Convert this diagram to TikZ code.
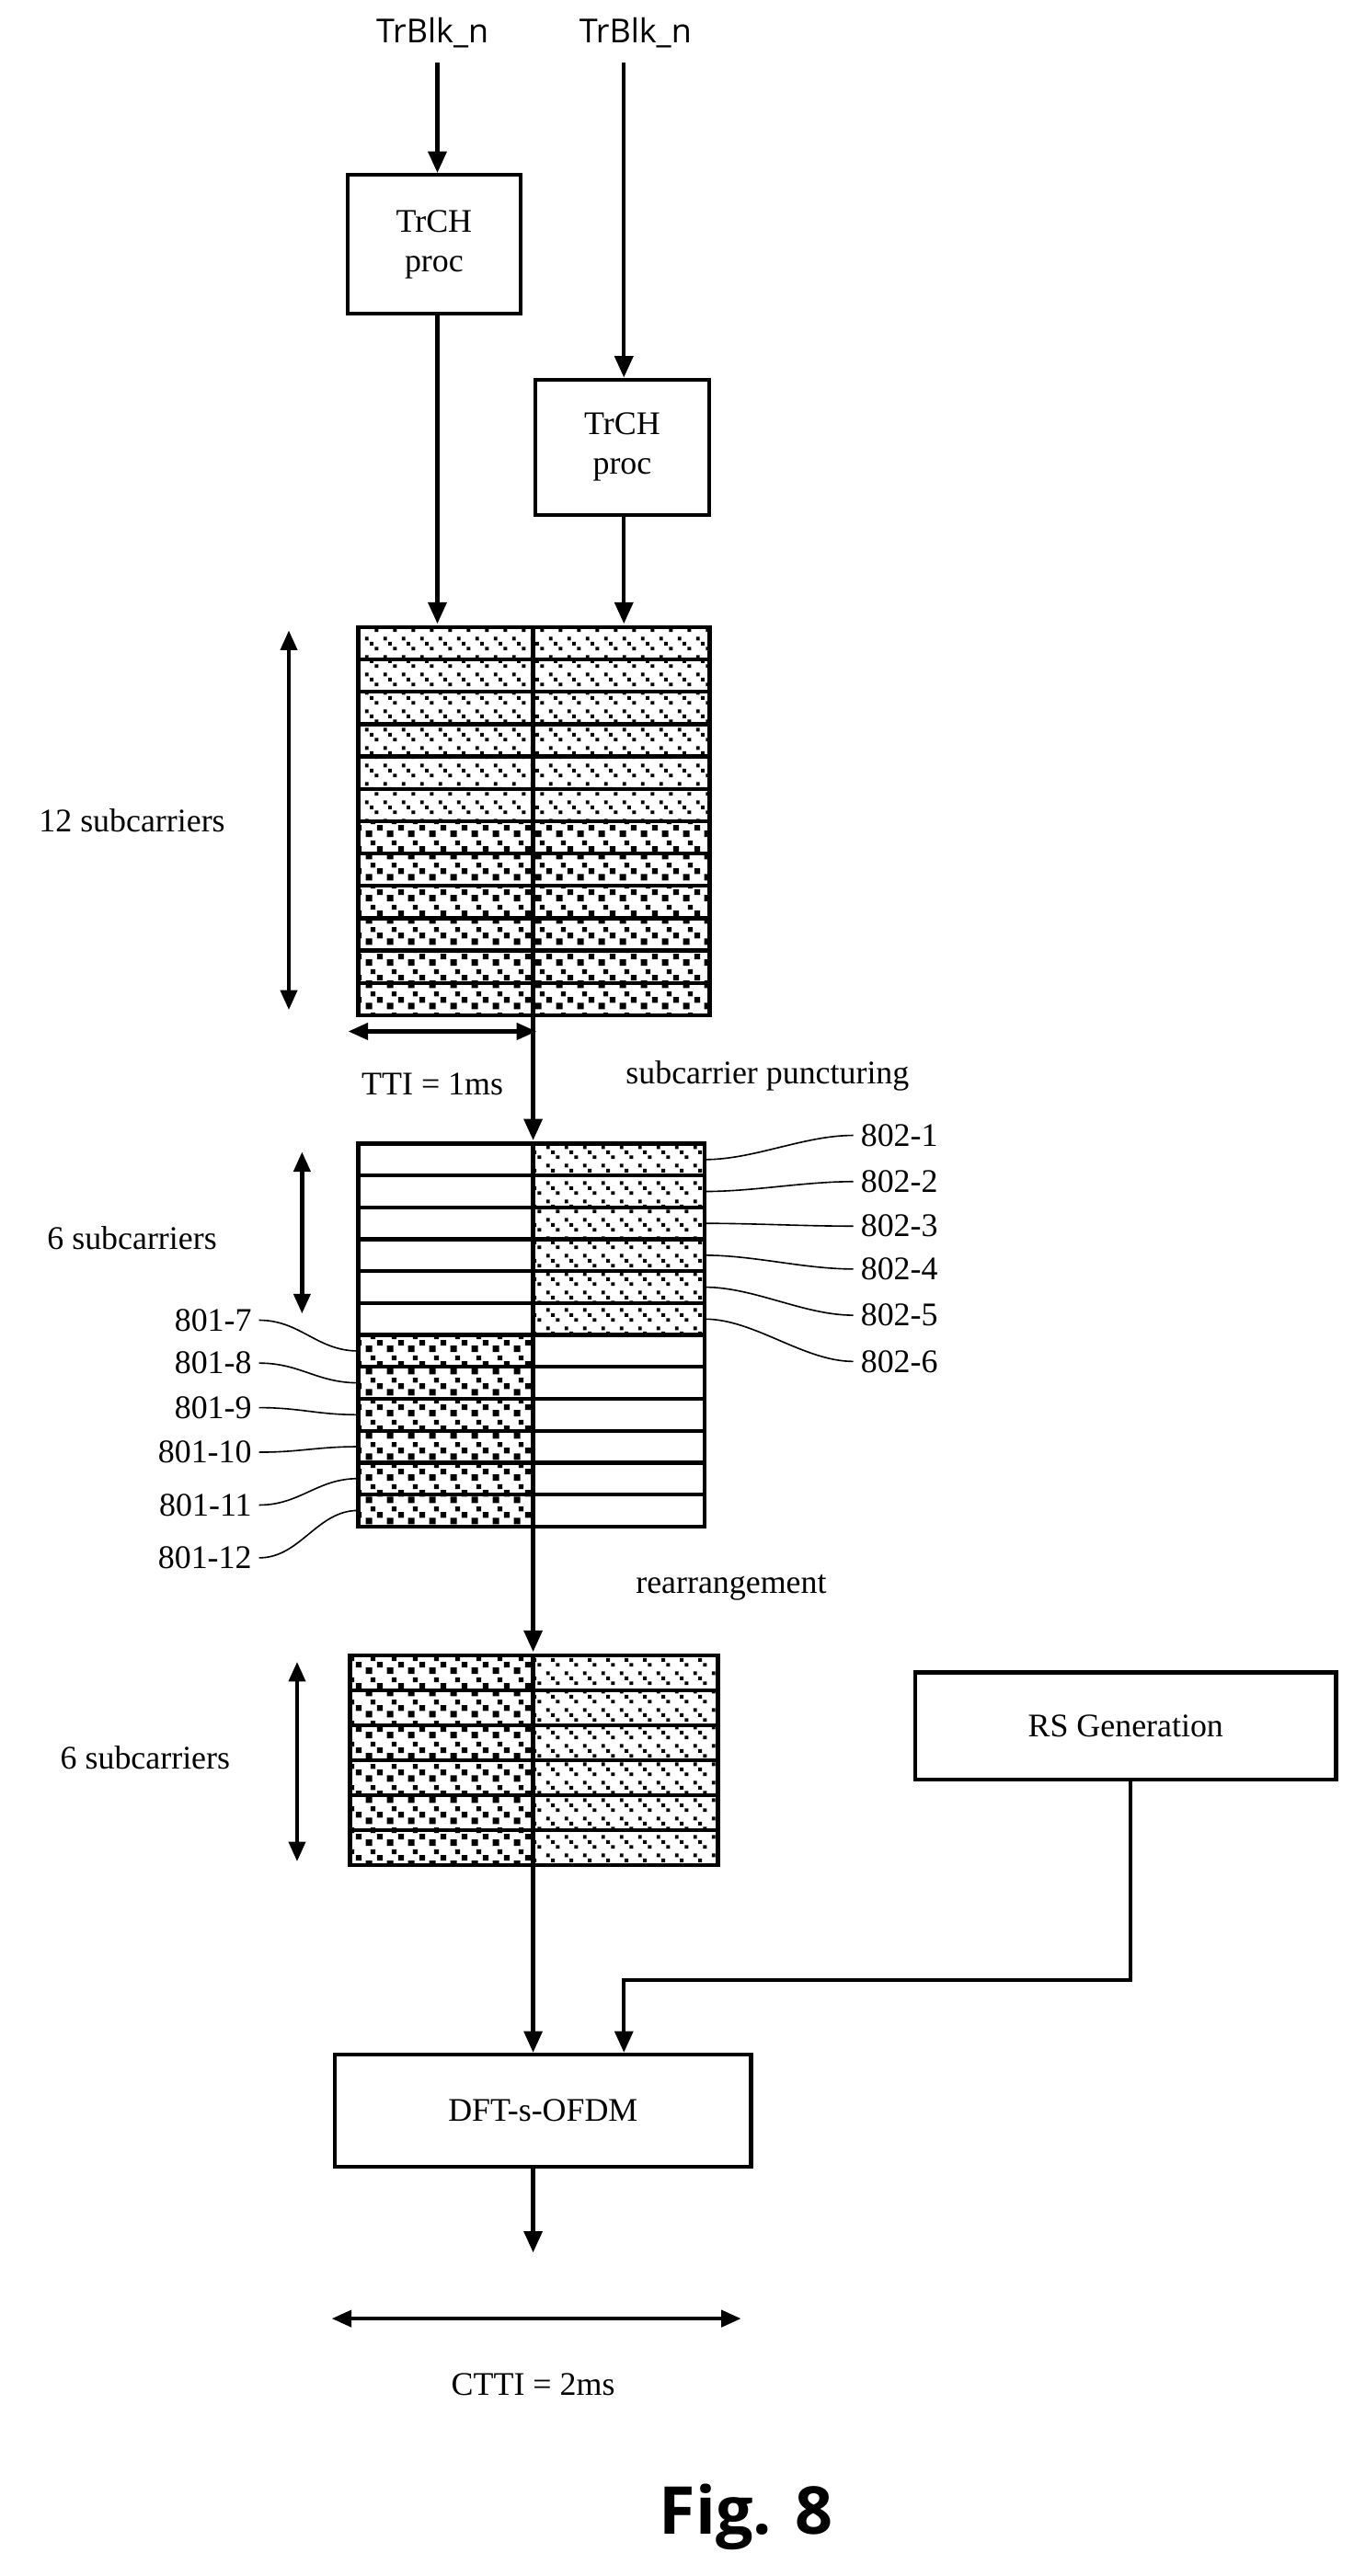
\documentclass[tikz,border=0pt]{standalone}
\usepackage{fontspec}
\setmainfont{Liberation Serif}
\newfontfamily\labelsans{Open Sans}
\usetikzlibrary{arrows.meta,patterns}
\pgfdeclarepatternformonly{slashes}{\pgfqpoint{0pt}{0pt}}{\pgfqpoint{11pt}{11pt}}{\pgfqpoint{11pt}{11pt}}{%
  \pgfpathrectangle{\pgfqpoint{1pt}{7pt}}{\pgfqpoint{2.2pt}{2.2pt}}
  \pgfpathrectangle{\pgfqpoint{4pt}{4pt}}{\pgfqpoint{2.2pt}{2.2pt}}
  \pgfpathrectangle{\pgfqpoint{7pt}{1pt}}{\pgfqpoint{2.2pt}{2.2pt}}
  \pgfusepath{fill}}
\pgfdeclarepatternformonly{specks}{\pgfqpoint{0pt}{0pt}}{\pgfqpoint{13pt}{13pt}}{\pgfqpoint{13pt}{13pt}}{%
  \pgfpathrectangle{\pgfqpoint{1pt}{1pt}}{\pgfqpoint{4pt}{4pt}}
  \pgfpathrectangle{\pgfqpoint{8pt}{5pt}}{\pgfqpoint{3.5pt}{3.5pt}}
  \pgfpathrectangle{\pgfqpoint{4pt}{9pt}}{\pgfqpoint{3pt}{3pt}}
  \pgfusepath{fill}}
\begin{document}
\begin{tikzpicture}[x=1pt,y=-1pt,line width=2.4pt,font=\fontsize{20}{24}\selectfont]
\tikzstyle{box}=[draw,minimum width=105pt,minimum height=84pt,align=center,inner sep=0pt]
\tikzstyle{flow}=[-{Triangle[length=13pt,width=11pt]}]
\tikzstyle{span}=[{Triangle[length=12pt,width=10pt]}-{Triangle[length=12pt,width=10pt]}]
\tikzstyle{stripe}=[pattern=slashes,pattern color=black]
\tikzstyle{speck}=[pattern=specks,pattern color=black]
\tikzstyle{lead}=[line width=0.9pt]
\useasboundingbox (0,0) rectangle (820,1561);
% inputs
\node[font=\labelsans\fontsize{20}{24}\selectfont] (in1) at (262,20) {TrBlk\_n};
\node[font=\labelsans\fontsize{20}{24}\selectfont] (in2) at (385,20) {TrBlk\_n};
\node[box] (proc1) at (263,148) {TrCH\\proc};
\node[box,minimum height=82pt] (proc2) at (377,271) {TrCH\\proc};
\draw[flow] (265,38) -- (proc1.north -| 265,0);
\draw[flow] (378,38) -- (proc2.north -| 378,0);
% first grid, 12 rows
\foreach \r in {0,...,5}
  \draw[stripe] (217,380+19.6*\r) rectangle (430,380+19.6*\r+19.6);
\foreach \r in {6,...,11}
  \draw[speck] (217,380+19.6*\r) rectangle (430,380+19.6*\r+19.6);
\draw (323,380) -- (323,615);
\coordinate (g1a) at (265,378);
\coordinate (g1b) at (378,378);
\coordinate (g1s) at (323,615);
\draw[flow] (proc1.south -| 265,0) -- (g1a);
\draw[flow] (proc2.south -| 378,0) -- (g1b);
\coordinate (s1t) at (175,382);
\coordinate (s1b) at (175,612);
\draw[span] (s1t) -- (s1b);
\node (sub12) at (80,497) {12 subcarriers};
\coordinate (ttil) at (211,625);
\coordinate (ttir) at (325,625);
\draw[span] (ttil) -- (ttir);
\node (tti) at (262,657) {TTI = 1ms};
\node (punct) at (465,652) {subcarrier puncturing};
% second grid
\coordinate (g2) at (323,691);
\draw[flow] (g1s) -- (g2);
\foreach \r in {0,...,5} {
  \draw (217,693+19.33*\r) rectangle (323,693+19.33*\r+19.33);
  \draw[stripe] (323,693+19.33*\r) rectangle (427,693+19.33*\r+19.33);
}
\foreach \r in {6,...,11} {
  \draw[speck] (217,693+19.33*\r) rectangle (323,693+19.33*\r+19.33);
  \draw (323,693+19.33*\r) rectangle (427,693+19.33*\r+19.33);
}
\foreach \k/\y in {1/688,2/716,3/743,4/769,5/797,6/825} {
  \node[anchor=west] (r\k) at (517,\y) {802-\k};
  \coordinate (e\k) at (427,{693+19.33*(\k-0.5)});
  \draw[lead] (e\k) .. controls +(30,0) and +(-30,0) .. (r\k.west);
}
\foreach \k/\y in {7/800,8/826,9/853,10/880,11/912,12/944} {
  \node[anchor=east] (l\k) at (157,\y) {801-\k};
  \coordinate (f\k) at (217,{693+19.33*(\k-0.5)});
  \draw[lead] (l\k.east) .. controls +(25,0) and +(-25,0) .. (f\k);
}
\coordinate (s2t) at (183,698);
\coordinate (s2b) at (183,796);
\draw[span] (s2t) -- (s2b);
\node (sub6a) at (80,750) {6 subcarriers};
% third grid
\coordinate (g2s) at (323,925);
\coordinate (g3) at (323,1001);
\draw[flow] (g2s) -- (g3);
\node (rearr) at (443,962) {rearrangement};
\foreach \r in {0,...,5} {
  \draw[speck] (212,1003+21.17*\r) rectangle (323,1003+21.17*\r+21.17);
  \draw[stripe] (323,1003+21.17*\r) rectangle (435,1003+21.17*\r+21.17);
}
\coordinate (s3t) at (180,1007);
\coordinate (s3b) at (180,1128);
\draw[span] (s3t) -- (s3b);
\node (sub6b) at (88,1065) {6 subcarriers};
% RS and DFT
\node[box,minimum width=255pt,minimum height=65pt] (rs) at (682,1046) {RS Generation};
\node[box,minimum width=252pt,minimum height=68pt] (dft) at (329,1279) {DFT-s-OFDM};
\coordinate (g3s) at (323,1130);
\draw[flow] (g3s) -- (g3s |- dft.north);
\coordinate (bend) at (378,1200);
\draw[flow] (rs.south -| 685,0) |- (bend) -- (bend |- dft.north);
\coordinate (out) at (323,1365);
\draw[flow] (dft.south -| 323,0) -- (out);
\coordinate (cl) at (201,1405);
\coordinate (cr) at (449,1405);
\draw[span] (cl) -- (cr);
\node (ctti) at (323,1445) {CTTI = 2ms};
\node[font=\labelsans\bfseries\fontsize{40}{48}\selectfont] (fig) at (452,1525) {Fig. 8};
\end{tikzpicture}
\end{document}
